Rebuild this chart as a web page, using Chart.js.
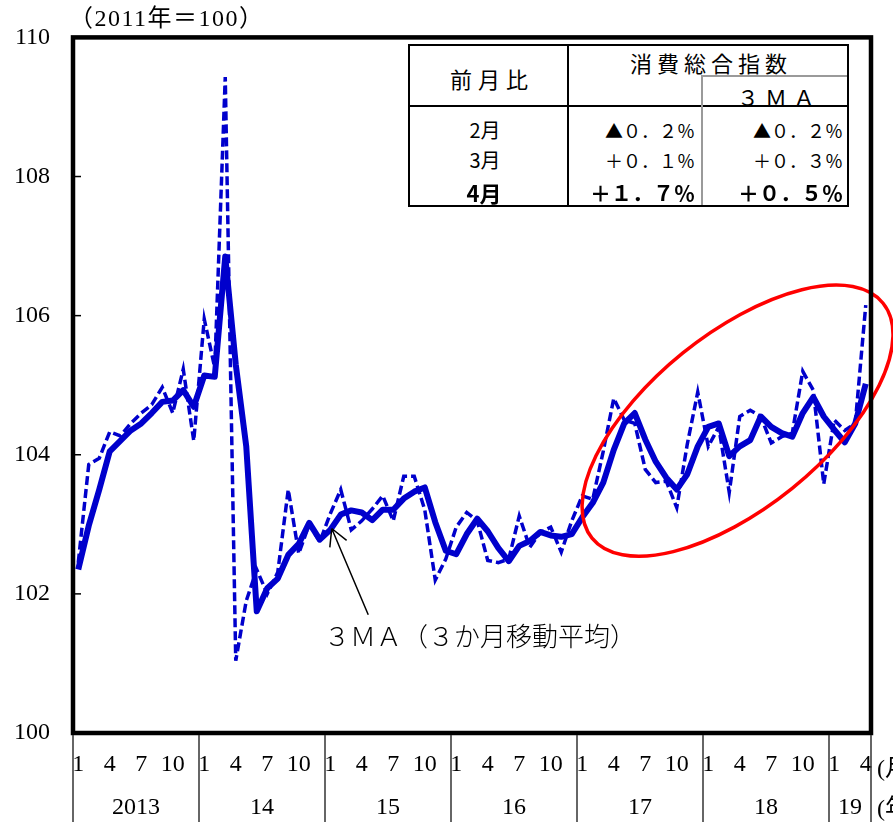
<!DOCTYPE html>
<html lang="ja">
<head>
<meta charset="utf-8">
<title>消費総合指数</title>
<script src="https://cdn.jsdelivr.net/npm/chart.js@4"></script>
<style>
  html, body { margin: 0; padding: 0; background: #fff; }
  body { width: 893px; height: 822px; overflow: hidden; position: relative; color: #000;
         font-family: "Liberation Serif", "Noto Sans CJK JP", serif; }
  #c { position: absolute; left: 0; top: 0; }
  .t { position: absolute; white-space: nowrap; line-height: 1; }
  .jp { font-family: "Noto Sans CJK JP", sans-serif; font-weight: 400; }
  .b { font-family: "Noto Sans CJK JP", sans-serif; font-weight: 700; }
  .ln { position: absolute; }
  .mid { transform: translate(-50%, -50%); }
  .rt { transform: translate(-100%, -50%); }
</style>
</head>
<body>
<canvas id="c" width="893" height="822"></canvas>

<!-- unit note -->
<div class="t" style="left:69px; top:6px; font-size:24px; letter-spacing:1.5px;">（2011年＝100）</div>

<!-- month-on-month table -->
<div class="ln" style="left:408px; top:44px; width:441px; height:163px; border:2px solid #000; box-sizing:border-box; background:#fff;"></div>
<div class="ln" style="left:567px; top:44px; width:2px; height:163px; background:#000;"></div>
<div class="ln" style="left:408px; top:105px; width:441px; height:2px; background:#000;"></div>
<div class="ln" style="left:701px; top:75px; width:146px; height:2px; background:#9a9a9a;"></div>
<div class="ln" style="left:701px; top:75px; width:2px; height:130px; background:#9a9a9a;"></div>

<div class="t jp mid" style="left:492px; top:78px; font-size:22px; letter-spacing:6px;">前月比</div>
<div class="t jp mid" style="left:711px; top:62px; font-size:22px; letter-spacing:5px;">消費総合指数</div>
<div class="t jp mid" style="left:779px; top:96px; font-size:22px; letter-spacing:6px;">３ＭＡ</div>

<div class="t jp mid" style="left:485px; top:130px; font-size:20px;">2月</div>
<div class="t jp mid" style="left:485px; top:160px; font-size:20px;">3月</div>
<div class="t b mid"  style="left:484px; top:192px; font-size:22px;">4月</div>

<div class="t jp rt" style="left:695px; top:130px; font-size:18px;">▲０．２％</div>
<div class="t jp rt" style="left:695px; top:160px; font-size:18px;">＋０．１％</div>
<div class="t b rt"  style="left:695px; top:192px; font-size:21px;">＋１．７％</div>
<div class="t jp rt" style="left:843px; top:130px; font-size:18px;">▲０．２％</div>
<div class="t jp rt" style="left:843px; top:160px; font-size:18px;">＋０．３％</div>
<div class="t b rt"  style="left:843px; top:192px; font-size:21px;">＋０．５％</div>

<!-- line annotation -->
<div class="t jp" style="left:324px; top:622px; font-size:26px; font-weight:300;">３ＭＡ（３か月移動平均）</div>

<!-- axis unit labels at the right edge -->
<div class="t" style="left:877px; top:756px; font-size:24px;">(月)</div>
<div class="t" style="left:877px; top:796px; font-size:24px;">(年)</div>

<script>
// 消費総合指数 (2011年=100), monthly, January 2013 – April 2019
const years = ['2013', '14', '15', '16', '17', '18', '19'];
const monthTicks = [1, 4, 7, 10];
const yTicks = [100, 102, 104, 106, 108, 110];

const consumptionIndex = [
  102.45, 103.86, 103.95, 104.33, 104.27, 104.45, 104.60, 104.72, 104.97, 104.60, 105.23, 104.20,
  105.95, 105.25, 109.43, 101.04, 101.90, 102.35, 102.00, 102.31, 103.50, 102.58, 103.00, 102.75,
  103.15, 103.50, 102.92, 103.05, 103.22, 103.41, 103.05, 103.69, 103.69, 103.21, 102.20, 102.50,
  102.96, 103.17, 103.05, 102.48, 102.45, 102.50, 103.12, 102.67, 102.88, 102.96, 102.60, 103.05,
  103.41, 103.36, 104.05, 104.81, 104.50, 104.45, 103.79, 103.60, 103.62, 103.24, 104.15, 104.90,
  104.12, 104.40, 103.46, 104.55, 104.64, 104.55, 104.17, 104.26, 104.31, 105.20, 104.93, 103.58,
  104.50, 104.35, 104.45, 106.15
];

// 3-month moving average
const consumptionIndex3MA = [
  102.35, 102.98, 103.50, 104.05, 104.20, 104.35, 104.45, 104.60, 104.76, 104.78, 104.93, 104.69,
  105.14, 105.12, 106.85, 105.30, 104.12, 101.75, 102.08, 102.22, 102.56, 102.72, 103.02, 102.78,
  102.92, 103.14, 103.20, 103.17, 103.06, 103.21, 103.21, 103.37, 103.47, 103.53, 103.03, 102.62,
  102.57, 102.86, 103.08, 102.90, 102.66, 102.47, 102.69, 102.76, 102.89, 102.84, 102.82, 102.86,
  103.10, 103.31, 103.60, 104.07, 104.45, 104.60, 104.22, 103.90, 103.67, 103.50, 103.72, 104.12,
  104.40, 104.45, 103.98, 104.12, 104.21, 104.55, 104.40, 104.31, 104.26, 104.60, 104.83, 104.55,
  104.36, 104.18, 104.45, 105.02
];

const N = consumptionIndex.length;
const monthOf = i => (i % 12) + 1;
const toPoints = arr => arr.map((v, i) => ({ x: i, y: v }));

// year blocks: label at the middle month, separators between blocks
const yearCenters = years.map((_, k) => (k * 12 + Math.min(k * 12 + 11, N - 1)) / 2);
const yearBounds = years.map((_, k) => k * 12 - 0.5).concat([N - 0.5]);

// highlighted recent period (ellipse) and arrow to the 3MA line, in data units
const recentFocus = { x: 62.79, y: 104.49, rx: 187, ry: 87, angle: -38.9 };
const maArrow = { tip: { x: 24.14, y: 102.94 }, tail: { x: 27.62, y: 101.70 } };

const BLUE = '#0000cc';
const serif = 'Liberation Serif';

const framePlugin = {
  id: 'frame',
  afterDraw(chart) {
    const { ctx, chartArea: a } = chart;
    const xs = chart.scales.x, ys = chart.scales.y;
    ctx.save();

    // inward tick marks on the value axis
    ctx.strokeStyle = '#000';
    ctx.lineWidth = 1.5;
    yTicks.forEach(v => {
      const py = ys.getPixelForValue(v);
      ctx.beginPath();
      ctx.moveTo(a.left, py);
      ctx.lineTo(a.left + 8, py);
      ctx.stroke();
    });

    // red ellipse around the recent period
    ctx.strokeStyle = '#ff0000';
    ctx.lineWidth = 3.5;
    ctx.beginPath();
    ctx.ellipse(xs.getPixelForValue(recentFocus.x), ys.getPixelForValue(recentFocus.y),
                recentFocus.rx, recentFocus.ry, recentFocus.angle * Math.PI / 180, 0, Math.PI * 2);
    ctx.stroke();

    // plot frame
    ctx.strokeStyle = '#000';
    ctx.lineWidth = 4.5;
    ctx.strokeRect(a.left, a.top, a.right - a.left, a.bottom - a.top);

    // year separators below the axis
    ctx.strokeStyle = '#333';
    ctx.lineWidth = 1.5;
    yearBounds.forEach(v => {
      const px = xs.getPixelForValue(v);
      ctx.beginPath();
      ctx.moveTo(px, a.bottom + 2);
      ctx.lineTo(px, chart.height);
      ctx.stroke();
    });

    // arrow pointing at the 3MA line
    const tx = xs.getPixelForValue(maArrow.tip.x), ty = ys.getPixelForValue(maArrow.tip.y);
    const lx = xs.getPixelForValue(maArrow.tail.x), ly = ys.getPixelForValue(maArrow.tail.y);
    const ang = Math.atan2(ly - ty, lx - tx);
    ctx.strokeStyle = '#000';
    ctx.lineWidth = 1.5;
    ctx.beginPath();
    ctx.moveTo(lx, ly);
    ctx.lineTo(tx, ty);
    [-0.5, 0.5].forEach(d => {
      ctx.moveTo(tx, ty);
      ctx.lineTo(tx + 19 * Math.cos(ang + d), ty + 19 * Math.sin(ang + d));
    });
    ctx.stroke();

    ctx.restore();
  }
};

new Chart(document.getElementById('c'), {
  type: 'line',
  data: {
    datasets: [
      {
        label: '消費総合指数',
        data: toPoints(consumptionIndex),
        borderColor: BLUE,
        borderWidth: 3.5,
        borderDash: [9, 4],
        pointRadius: 0,
        fill: false,
        tension: 0
      },
      {
        label: '３ＭＡ',
        data: toPoints(consumptionIndex3MA),
        borderColor: BLUE,
        borderWidth: 6,
        pointRadius: 0,
        fill: false,
        tension: 0,
        borderJoinStyle: 'round'
      }
    ]
  },
  options: {
    responsive: false,
    devicePixelRatio: 1,
    animation: false,
    events: [],
    layout: { padding: { top: 31, right: 22, bottom: 0, left: 0 } },
    plugins: { legend: { display: false }, tooltip: { enabled: false } },
    scales: {
      x: {
        type: 'linear',
        position: 'bottom',
        min: -0.5,
        max: N - 0.5,
        grid: { display: false, drawTicks: false },
        border: { display: false },
        afterBuildTicks(s) {
          s.ticks = consumptionIndex.map((_, i) => i)
            .filter(i => monthTicks.includes(monthOf(i)))
            .map(v => ({ value: v }));
        },
        afterFit(s) { s.height = 50; },
        ticks: {
          autoSkip: false, maxRotation: 0, padding: 17.6, color: '#000',
          font: { family: serif, size: 24 },
          callback: v => String(monthOf(v))
        }
      },
      x2: {
        type: 'linear',
        position: 'bottom',
        min: -0.5,
        max: N - 0.5,
        grid: { display: false, drawTicks: false },
        border: { display: false },
        afterBuildTicks(s) { s.ticks = yearCenters.map(v => ({ value: v })); },
        afterFit(s) { s.height = 39; },
        ticks: {
          autoSkip: false, maxRotation: 0, padding: 10.6, color: '#000',
          font: { family: serif, size: 24 },
          callback: (v, k) => years[k]
        }
      },
      y: {
        min: 100,
        max: 110,
        grid: { display: false, drawTicks: false },
        border: { display: false },
        afterBuildTicks(s) { s.ticks = yTicks.map(v => ({ value: v })); },
        afterFit(s) { s.width = 73; },
        ticks: { padding: 23, color: '#000', font: { family: serif, size: 24 } }
      }
    }
  },
  plugins: [framePlugin]
});
</script>
</body>
</html>
